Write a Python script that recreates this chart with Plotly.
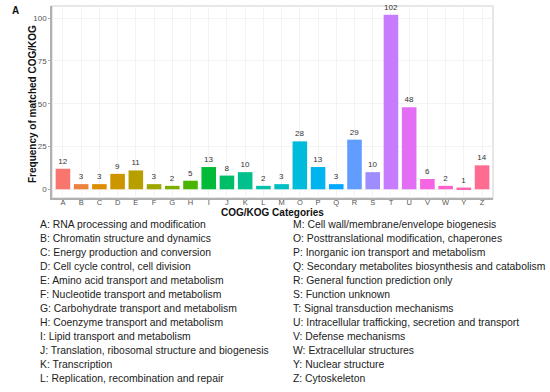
import math
import plotly.graph_objects as go

categories = ["A", "B", "C", "D", "E", "F", "G", "H", "I", "J", "K", "L",
              "M", "O", "P", "Q", "R", "S", "T", "U", "V", "W", "Y", "Z"]
counts = [12, 3, 3, 9, 11, 3, 2, 5, 13, 8, 10, 2,
          3, 28, 13, 3, 29, 10, 102, 48, 6, 2, 1, 14]
y_ticks = [0, 25, 50, 75, 100]
descriptions_left = [
    "A: RNA processing and modification",
    "B: Chromatin structure and dynamics",
    "C: Energy production and conversion",
    "D: Cell cycle control, cell division",
    "E: Amino acid transport and metabolism",
    "F: Nucleotide transport and metabolism",
    "G: Carbohydrate transport and metabolism",
    "H: Coenzyme transport and metabolism",
    "I: Lipid transport and metabolism",
    "J: Translation, ribosomal structure and biogenesis",
    "K: Transcription",
    "L: Replication, recombination and repair",
]
descriptions_right = [
    "M: Cell wall/membrane/envelope biogenesis",
    "O: Posttranslational modification, chaperones",
    "P: Inorganic ion transport and metabolism",
    "Q: Secondary metabolites biosynthesis and catabolism",
    "R: General function prediction only",
    "S: Function unknown",
    "T: Signal transduction mechanisms",
    "U: Intracellular trafficking, secretion and transport",
    "V: Defense mechanisms",
    "W: Extracellular structures",
    "Y: Nuclear structure",
    "Z: Cytoskeleton",
]


def hcl_hex(h, c=100.0, l=65.0):
    # polar LUV -> sRGB (as in R's hcl / ggplot2 hue_pal)
    Xn, Yn, Zn = 95.047, 100.0, 108.883
    un = 4 * Xn / (Xn + 15 * Yn + 3 * Zn)
    vn = 9 * Yn / (Xn + 15 * Yn + 3 * Zn)
    u = c * math.cos(math.radians(h))
    v = c * math.sin(math.radians(h))
    Y = Yn * (((l + 16) / 116) ** 3 if l > 8 else l / 903.3)
    up = u / (13 * l) + un
    vp = v / (13 * l) + vn
    X = 9.0 * Y * up / (4 * vp)
    Z = -X / 3 - 5 * Y + 3 * Y / vp
    X, Y, Z = X / 100, Y / 100, Z / 100
    r = 3.240479 * X - 1.537150 * Y - 0.498535 * Z
    g = -0.969256 * X + 1.875992 * Y + 0.041556 * Z
    b = 0.055648 * X - 0.204043 * Y + 1.057311 * Z

    def gam(t):
        t = 12.92 * t if t <= 0.0031308 else 1.055 * t ** (1 / 2.4) - 0.055
        return max(0, min(255, round(255 * t)))
    return "#%02X%02X%02X" % (gam(r), gam(g), gam(b))


n = len(categories)
colors = [hcl_hex(15 + 360.0 * i / n) for i in range(n)]

fig = go.Figure()
fig.add_trace(go.Bar(
    x=categories, y=counts, marker=dict(color=colors, line=dict(width=0)),
    width=0.8, text=[str(v) for v in counts], textposition="outside",
    textfont=dict(family="Liberation Sans", size=8, color="#333333"),
    cliponaxis=False, showlegend=False,
))

ymax = max(counts)
fig.update_layout(
    width=550, height=392,
    margin=dict(l=52, r=57, t=6, b=194),
    paper_bgcolor="white", plot_bgcolor="white",
    font=dict(family="Liberation Sans", color="#444444"),
    xaxis=dict(
        range=[-0.6, n - 1 + 0.6], showgrid=True, gridcolor="#f3f3f3",
        showline=True, linecolor="#b0b0b0", linewidth=1.5,
        ticks="",
        tickfont=dict(size=7.5, color="#555555"), fixedrange=True,
        automargin=False, ticklabelstandoff=-4,
    ),
    yaxis=dict(
        range=[-0.05 * ymax, 1.05 * ymax], tickvals=y_ticks,
        showgrid=True, gridcolor="#f3f3f3", zeroline=False,
        showline=True, linecolor="#b0b0b0", linewidth=1.5,
        ticks="outside", ticklen=2, tickcolor="#b0b0b0",
        tickfont=dict(size=8, color="#555555"), automargin=False,
    ),
    shapes=[dict(type="rect", xref="paper", yref="paper", x0=0, y0=0, x1=1, y1=1,
                 line=dict(color="#e0e0e0", width=1.5), layer="below")],
)

W = 441.0
H = 192.0


def px_x(xp):
    return (xp - 52) / W


def px_y(yp):
    return (198 - yp) / H


ann = []
ann.append(dict(text="<b>A</b>", x=px_x(15), y=px_y(10), xref="paper", yref="paper",
                xanchor="center", yanchor="middle",
                showarrow=False, font=dict(size=10, color="#111111")))
ann.append(dict(text="<b>Frequency of matched COG/KOG</b>", x=px_x(32), y=px_y(104),
                xref="paper", yref="paper", showarrow=False, textangle=-90,
                xanchor="center", yanchor="middle",
                font=dict(size=10, color="#111111")))
ann.append(dict(text="<b>COG/KOG Categories</b>", x=px_x(272), y=px_y(212.5),
                xref="paper", yref="paper", showarrow=False,
                xanchor="center", yanchor="middle",
                font=dict(size=10, color="#111111")))
for i, t in enumerate(descriptions_left):
    ann.append(dict(text=t, x=px_x(38), y=px_y(224 + 14 * i), xref="paper", yref="paper",
                    xanchor="left", yanchor="middle", showarrow=False,
                    font=dict(size=10.4, color="#222222")))
for i, t in enumerate(descriptions_right):
    ann.append(dict(text=t, x=px_x(291), y=px_y(224 + 14 * i), xref="paper", yref="paper",
                    xanchor="left", yanchor="middle", showarrow=False,
                    font=dict(size=10.4, color="#222222")))
fig.update_layout(annotations=ann)

fig.write_html("out.html", config={"displayModeBar": False},
               post_script="document.body.style.margin='0px';")
